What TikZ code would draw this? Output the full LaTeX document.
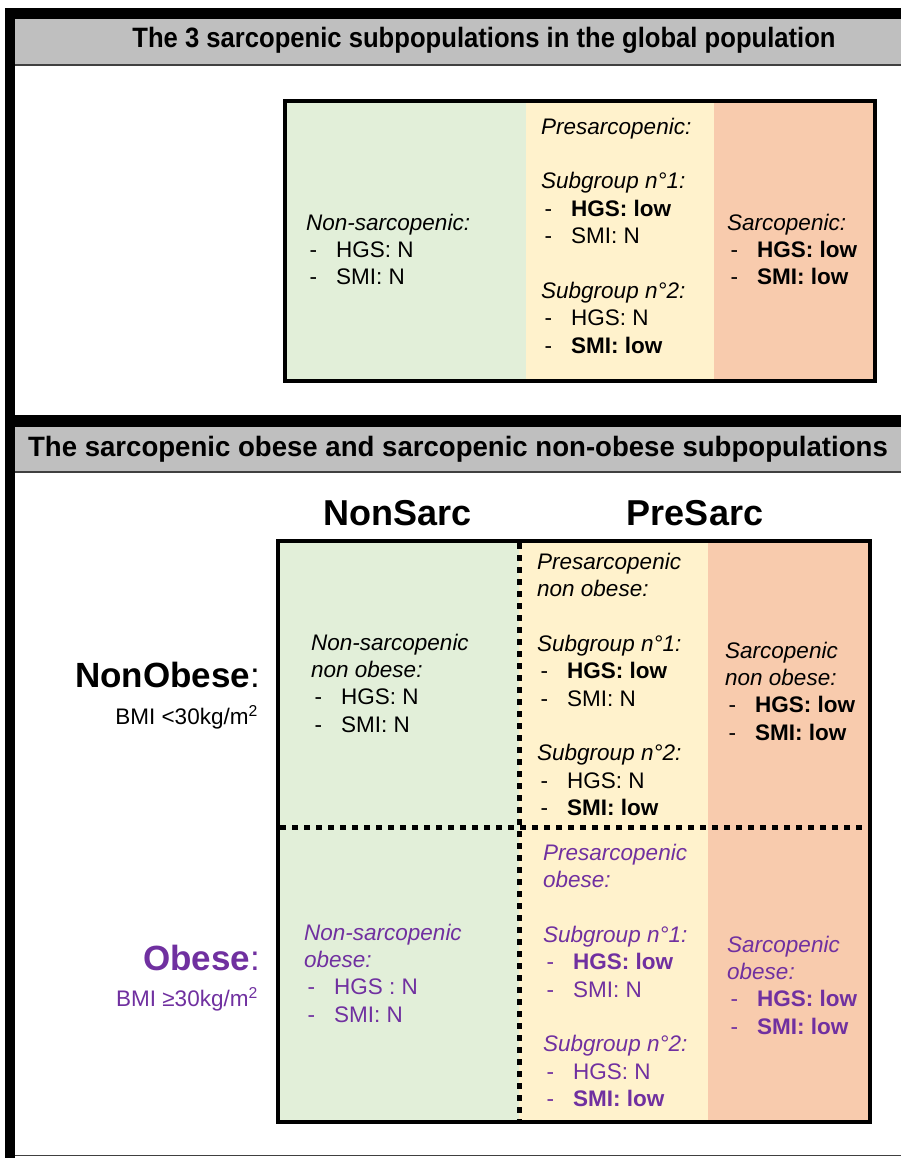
\documentclass[tikz,border=0pt]{standalone}
\usepackage{fontspec}
\setmainfont{Liberation Sans}
\usepackage{graphicx}
\definecolor{hdrgray}{HTML}{BFBFBF}
\definecolor{cgreen}{HTML}{E2EFD9}
\definecolor{cyellow}{HTML}{FFF2CC}
\definecolor{csalmon}{HTML}{F8CBAD}
\definecolor{obpurple}{HTML}{7030A0}
\definecolor{lnDark}{HTML}{404040}
\newcommand\itm[1]{\hspace*{3.5pt}\makebox[26.5pt][l]{-}#1}
\tikzset{
  txt/.style={anchor=base west, align=left, inner sep=0pt, font=\fontsize{22.5}{27.4}\selectfont},
  hdr/.style={anchor=center, inner sep=0pt, font=\fontsize{28}{32}\selectfont\bfseries},
  colhdr/.style={anchor=base, inner sep=0pt, font=\fontsize{36}{40}\selectfont\bfseries},
  rowhdr/.style={anchor=base east, inner sep=0pt, font=\fontsize{35}{40}\selectfont},
  bmi/.style={anchor=base east, inner sep=0pt, font=\fontsize{22.5}{27}\selectfont},
  dotline/.style={line width=5pt, dash pattern=on 6pt off 6pt},
  boxline/.style={line width=4pt}
}
\begin{document}
\begin{tikzpicture}[x=1pt,y=-1pt]
\useasboundingbox (0,0) rectangle (901,1158);
\fill[white] (0,0) rectangle (901,1158);
% outer frame
\fill[hdrgray] (15,19) rectangle (901,65);
\draw[lnDark, line width=1.2pt] (15,65) -- (901,65);
\fill[hdrgray] (15,427) rectangle (901,472);
\draw[lnDark, line width=1.2pt] (15,472) -- (901,472);
\fill[black] (5,8) rectangle (15,1158);
\fill[black] (5,8) rectangle (901,19);
\fill[black] (5,415) rectangle (901,427);
\draw[lnDark, line width=1.5pt] (15,1155.5) -- (901,1155.5);
% headers
\node[hdr] (h1) at (484,40) {\scalebox{0.915}[1]{The 3 sarcopenic subpopulations in the global population}};
\node[hdr] (h2) at (458,449) {\scalebox{0.985}[1]{The sarcopenic obese and sarcopenic non-obese subpopulations}};
% top box
\fill[cgreen] (285,101) rectangle (526,381);
\fill[cyellow] (526,101) rectangle (714,381);
\fill[csalmon] (714,101) rectangle (875,381);
\draw[boxline] (285,101) rectangle (875,381);
% (base anchor = baseline of the last line)
\node[txt] (t1) at (306,284.8) {\itshape Non-sarcopenic:\\ \itm{HGS: N}\\ \itm{SMI: N}};
\node[txt] (t2) at (541,353.2) {\itshape Presarcopenic:\\[27.4pt] \itshape Subgroup n°1:\\ \itm{\textbf{HGS: low}}\\ \itm{SMI: N}\\[27.4pt] \itshape Subgroup n°2:\\ \itm{HGS: N}\\ \itm{\textbf{SMI: low}}};
\node[txt] (t3) at (727,284.8) {\itshape Sarcopenic:\\ \itm{\textbf{HGS: low}}\\ \itm{\textbf{SMI: low}}};
% column headers
\node[colhdr] (cNS) at (398,525) {NonSarc};
\node[colhdr] (cPS) at (695,525) {PreSarc};
% row headers
\node[rowhdr] (rNO) at (260,687) {\textbf{NonObese}:};
\node[bmi] (bNO) at (258,724) {BMI <30kg/m\textsuperscript{2}};
\node[rowhdr, text=obpurple] (rO) at (260,970) {\textbf{Obese}:};
\node[bmi, text=obpurple] (bO) at (258,1006) {BMI ≥30kg/m\textsuperscript{2}};
% bottom grid
\fill[cgreen] (278,541) rectangle (519,1122);
\fill[cyellow] (519,541) rectangle (708,1122);
\fill[csalmon] (708,541) rectangle (870,1122);
\coordinate (vT) at (519,543);
\coordinate (vB) at (519,1120);
\coordinate (hL) at (280,827);
\coordinate (hR) at (868,827);
\draw[dotline] (vT) -- (vB);
\draw[dotline] (hL) -- (hR);
\draw[boxline] (278,541) rectangle (870,1122);
\node[txt] (g11) at (311,732.2) {\itshape Non-sarcopenic\\ \itshape non obese:\\ \itm{HGS: N}\\ \itm{SMI: N}};
\node[txt] (g12) at (537,815.6) {\itshape Presarcopenic\\ \itshape non obese:\\[27.4pt] \itshape Subgroup n°1:\\ \itm{\textbf{HGS: low}}\\ \itm{SMI: N}\\[27.4pt] \itshape Subgroup n°2:\\ \itm{HGS: N}\\ \itm{\textbf{SMI: low}}};
\node[txt] (g13) at (725,740.2) {\itshape Sarcopenic\\ \itshape non obese:\\ \itm{\textbf{HGS: low}}\\ \itm{\textbf{SMI: low}}};
\node[txt, text=obpurple] (g21) at (304,1022.2) {\itshape Non-sarcopenic\\ \itshape obese:\\ \itm{HGS : N}\\ \itm{SMI: N}};
\node[txt, text=obpurple] (g22) at (543,1106.6) {\itshape Presarcopenic\\ \itshape obese:\\[27.4pt] \itshape Subgroup n°1:\\ \itm{\textbf{HGS: low}}\\ \itm{SMI: N}\\[27.4pt] \itshape Subgroup n°2:\\ \itm{HGS: N}\\ \itm{\textbf{SMI: low}}};
\node[txt, text=obpurple] (g23) at (727,1034.2) {\itshape Sarcopenic\\ \itshape obese:\\ \itm{\textbf{HGS: low}}\\ \itm{\textbf{SMI: low}}};
\end{tikzpicture}
\end{document}
